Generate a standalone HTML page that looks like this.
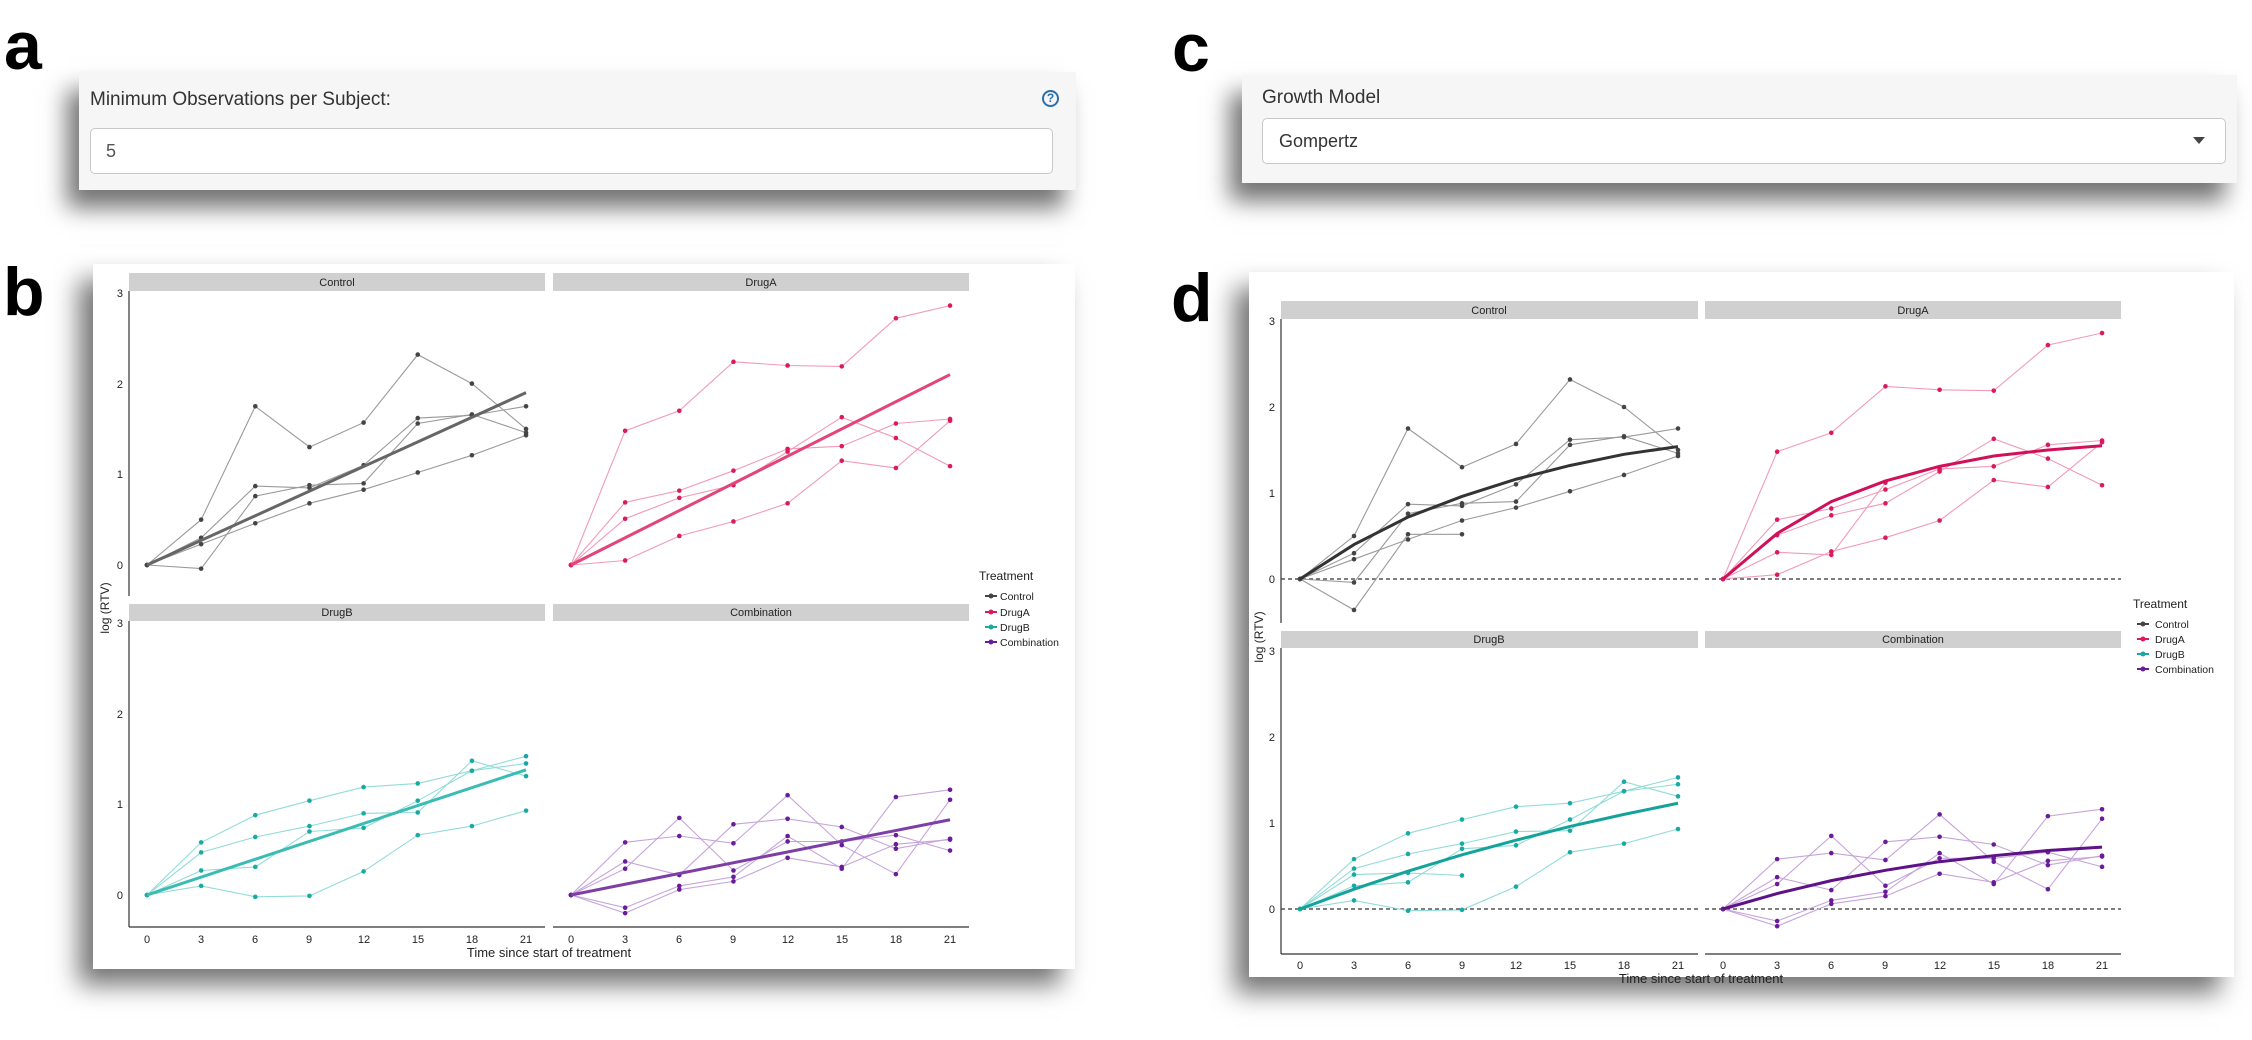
<!DOCTYPE html>
<html><head><meta charset="utf-8"><style>
body{margin:0;width:2252px;height:1040px;background:#fff;position:relative;overflow:hidden;font-family:"Liberation Sans",sans-serif}
.lab{position:absolute;font-weight:bold;font-size:68px;line-height:1;color:#000}
.well{position:absolute;background:#f6f6f6;box-shadow:-12px 18px 22px rgba(0,0,0,0.55)}
.inp{position:absolute;background:#fff;border:1.5px solid #c8c8c8;border-radius:5px;box-sizing:border-box}
.card{position:absolute;background:#fff;box-shadow:-14px 16px 24px rgba(0,0,0,0.55)}
svg{position:absolute;left:0;top:0}
</style></head><body>
<div class="lab" style="left:4px;top:12px">a</div>
<div class="lab" style="left:1172px;top:14px">c</div>
<div class="lab" style="left:3px;top:258px">b</div>
<div class="lab" style="left:1171px;top:264px">d</div>

<div class="well" style="left:79px;top:72px;width:997px;height:118px">
  <div style="position:absolute;left:11px;top:17px;font-size:19px;color:#333">Minimum Observations per Subject:</div>
  <div style="position:absolute;left:963px;top:18px;width:17px;height:17px;border:2px solid #2a6fb0;border-radius:50%;box-sizing:border-box;font-size:12px;line-height:13px;text-align:center;color:#2a6fb0;font-weight:bold">?</div>
  <div class="inp" style="left:11px;top:56px;width:963px;height:46px"><span style="position:absolute;left:15px;top:12px;font-size:18px;color:#555">5</span></div>
</div>
<div class="well" style="left:1242px;top:75px;width:995px;height:108px">
  <div style="position:absolute;left:20px;top:12px;font-size:19px;color:#333">Growth Model</div>
  <div class="inp" style="left:20px;top:43px;width:964px;height:46px"><span style="position:absolute;left:16px;top:12px;font-size:18px;color:#333">Gompertz</span>
  <span style="position:absolute;right:20px;top:18px;width:0;height:0;border-left:6px solid transparent;border-right:6px solid transparent;border-top:7px solid #444"></span></div>
</div>

<div class="card" style="left:93px;top:264px;width:982px;height:705px"></div>
<div class="card" style="left:1249px;top:272px;width:985px;height:705px"></div>

<svg width="2252" height="1040" id="s" font-family="Liberation Sans, sans-serif">
<g fill="#d0d0d0">
<rect x="129" y="273" width="416" height="18"/><rect x="553" y="273" width="416" height="18"/>
<rect x="129" y="604" width="416" height="17"/><rect x="553" y="604" width="416" height="17"/>
<rect x="1281" y="301" width="417" height="18"/><rect x="1705" y="301" width="416" height="18"/>
<rect x="1281" y="631" width="417" height="17"/><rect x="1705" y="631" width="416" height="17"/>
</g>
<g font-size="11" text-anchor="middle" fill="#222">
<text x="337" y="286">Control</text><text x="761" y="286">DrugA</text>
<text x="337" y="616">DrugB</text><text x="761" y="616">Combination</text>
<text x="1489" y="314">Control</text><text x="1913" y="314">DrugA</text>
<text x="1489" y="643">DrugB</text><text x="1913" y="643">Combination</text>
</g>
<g stroke="#333" stroke-width="1.2" fill="none">
<path d="M129 291V596M129 621V927M129 927H545M553 927H969"/>
<path d="M1281 319V623M1281 648V954M1281 954H1698M1705 954H2121"/>
</g>
<g stroke="#333" stroke-dasharray="4,3" stroke-width="1.2">
<path d="M1281 579H1698M1705 579H2121M1281 909H1698M1705 909H2121"/>
</g>
<g font-size="11" fill="#222" text-anchor="end">
<text x="123" y="297">3</text><text x="123" y="388">2</text><text x="123" y="478">1</text><text x="123" y="569">0</text>
<text x="123" y="627">3</text><text x="123" y="718">2</text><text x="123" y="808">1</text><text x="123" y="899">0</text>
<text x="1275" y="325">3</text><text x="1275" y="411">2</text><text x="1275" y="497">1</text><text x="1275" y="583">0</text>
<text x="1275" y="655">3</text><text x="1275" y="741">2</text><text x="1275" y="827">1</text><text x="1275" y="913">0</text>
</g>
<g font-size="11" fill="#222" text-anchor="middle">
<text x="147" y="943">0</text><text x="201" y="943">3</text><text x="255" y="943">6</text><text x="309" y="943">9</text><text x="364" y="943">12</text><text x="418" y="943">15</text><text x="472" y="943">18</text><text x="526" y="943">21</text>
<text x="571" y="943">0</text><text x="625" y="943">3</text><text x="679" y="943">6</text><text x="733" y="943">9</text><text x="788" y="943">12</text><text x="842" y="943">15</text><text x="896" y="943">18</text><text x="950" y="943">21</text>
<text x="1300" y="969">0</text><text x="1354" y="969">3</text><text x="1408" y="969">6</text><text x="1462" y="969">9</text><text x="1516" y="969">12</text><text x="1570" y="969">15</text><text x="1624" y="969">18</text><text x="1678" y="969">21</text>
<text x="1723" y="969">0</text><text x="1777" y="969">3</text><text x="1831" y="969">6</text><text x="1885" y="969">9</text><text x="1940" y="969">12</text><text x="1994" y="969">15</text><text x="2048" y="969">18</text><text x="2102" y="969">21</text>
<text x="549" y="957" font-size="13">Time since start of treatment</text>
<text x="1701" y="983" font-size="13">Time since start of treatment</text>
<text transform="translate(109,608) rotate(-90)" font-size="12">log (RTV)</text>
<text transform="translate(1263,637) rotate(-90)" font-size="12">log (RTV)</text>
</g>
<g font-size="12" fill="#222">
<text x="979" y="580">Treatment</text>
<text x="1000" y="600" font-size="10.5">Control</text><text x="1000" y="616" font-size="10.5">DrugA</text><text x="1000" y="631" font-size="10.5">DrugB</text><text x="1000" y="646" font-size="10.5">Combination</text>
<text x="2133" y="608">Treatment</text>
<text x="2155" y="628" font-size="10.5">Control</text><text x="2155" y="643" font-size="10.5">DrugA</text><text x="2155" y="658" font-size="10.5">DrugB</text><text x="2155" y="673" font-size="10.5">Combination</text>
</g>
<g id="data"></g>
</svg>
<script>
var NS="http://www.w3.org/2000/svg",g=document.getElementById("data");
function el(t,a){var e=document.createElementNS(NS,t);for(var k in a)e.setAttribute(k,a[k]);g.appendChild(e);}
var D={
C:{col:"#444",lc:"#9a9a9a",lines:[[0,.5,1.75,1.3,1.57,2.32,2.0,1.5],[0,.3,.87,.85,1.1,1.62,1.65,1.75],[0,-.04,.76,.88,.9,1.56,1.66,1.46],[0,.23,.46,.68,.83,1.02,1.21,1.43]],
 extra:[[0,-.36,.52,.52]],lin:1.9,gom:[0,.4,.72,.96,1.16,1.32,1.45,1.54],fb:"#666",fd:"#333"},
A:{col:"#db1a5e",lc:"#f29ab8",lines:[[0,1.48,1.7,2.24,2.2,2.19,2.72,2.86],[0,.69,.82,1.04,1.28,1.31,1.56,1.61],[0,.51,.74,.88,1.25,1.63,1.4,1.09],[0,.05,.32,.48,.68,1.15,1.07,1.59]],
 extra:[[0,.31,.28,1.12]],lin:2.1,gom:[0,.53,.9,1.14,1.31,1.43,1.5,1.55],fb:"#e2447b",fd:"#d0105a"},
B:{col:"#18aaa2",lc:"#92dcd7",lines:[[0,.58,.88,1.04,1.19,1.23,1.37,1.45],[0,.47,.64,.76,.9,.91,1.48,1.31],[0,.27,.31,.7,.74,1.04,1.37,1.53],[0,.1,-.02,-.01,.26,.66,.76,.93]],
 extra:[[0,.4,.42,.39]],lin:1.38,gom:[0,.23,.44,.63,.8,.96,1.1,1.23],fb:"#3abcb4",fd:"#14a39a"},
M:{col:"#6a1b9a",lc:"#c6a4da",lines:[[0,.58,.65,.57,1.1,.55,.23,1.05],[0,.37,.22,.78,.84,.75,.51,.62],[0,.29,.85,.27,.59,.59,.66,.49],[0,-.14,.1,.2,.65,.29,1.08,1.16],[0,-.2,.06,.15,.41,.31,.56,.61]],
 extra:[],lin:.83,gom:[0,.18,.33,.45,.55,.62,.68,.72],fb:"#7d3fa5",fd:"#5e1287"}};
function panel(d,x0,dx,y0,u,curve){
 var all=d.lines.concat(curve?d.extra:[]);
 all.forEach(function(L){var p=L.map(function(v,i){return (x0+i*3*dx).toFixed(1)+","+(y0-v*u).toFixed(1)}).join(" ");
  el("polyline",{points:p,fill:"none",stroke:d.lc,"stroke-width":1.1});});
 all.forEach(function(L){L.forEach(function(v,i){el("circle",{cx:x0+i*3*dx,cy:y0-v*u,r:2.3,fill:d.col});});});
 if(curve){var p=d.gom.map(function(v,i){return (x0+i*3*dx)+","+(y0-v*u)}).join(" ");
  el("polyline",{points:p,fill:"none",stroke:d.fd,"stroke-width":3});}
 else el("line",{x1:x0,y1:y0,x2:x0+21*dx,y2:y0-d.lin*u,stroke:d.fb,"stroke-width":3});
}
panel(D.C,147,18.05,565,90.7,0);panel(D.A,571,18.05,565,90.7,0);
panel(D.B,147,18.05,895,90.7,0);panel(D.M,571,18.05,895,90.7,0);
panel(D.C,1300,18,579,86,1);panel(D.A,1723,18.05,579,86,1);
panel(D.B,1300,18,909,86,1);panel(D.M,1723,18.05,909,86,1);
[["C",596],["A",612],["B",627],["M",642]].forEach(function(a){var c=D[a[0]].col;
 el("line",{x1:985,y1:a[1],x2:997,y2:a[1],stroke:c,"stroke-width":2});el("circle",{cx:991,cy:a[1],r:2.5,fill:c});});
[["C",624],["A",639],["B",654],["M",669]].forEach(function(a){var c=D[a[0]].col;
 el("line",{x1:2137,y1:a[1],x2:2149,y2:a[1],stroke:c,"stroke-width":2});el("circle",{cx:2143,cy:a[1],r:2.5,fill:c});});
</script>
</body></html>
